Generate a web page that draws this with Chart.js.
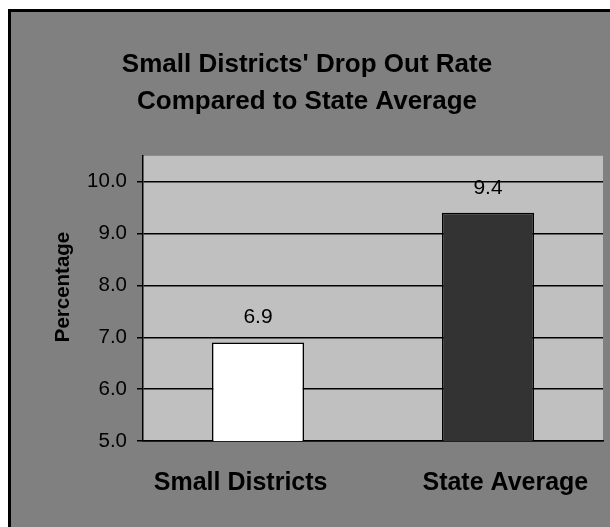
<!DOCTYPE html>
<html>
<head>
<meta charset="utf-8">
<title>Small Districts' Drop Out Rate</title>
<script src="https://cdn.jsdelivr.net/npm/chart.js@4.4.1/dist/chart.umd.min.js"></script>
<style>
    html, body { margin: 0; padding: 0; background: #ffffff; overflow: hidden; }
    #frame {
        position: absolute;
        left: 8px;
        top: 9px;
        width: 599px;
        height: 515px;
        border-left: 3px solid #000;
        border-top: 3px solid #000;
        background: #808080;
    }
    #dropOutChart { display: block; }
</style>
</head>
<body>
<div id="frame">
    <canvas id="dropOutChart" width="599" height="515"></canvas>
</div>
<script>
// chart data
const categories = ['Small Districts', 'State Average'];
const dropOutRates = [6.9, 9.4];
const barColors = ['#ffffff', '#333333'];
const titleLines = ["Small Districts' Drop Out Rate", 'Compared to State Average'];
const yTicks = [5, 6, 7, 8, 9, 10];

const FONT = '"Liberation Sans", Arial, Helvetica, sans-serif';

// grey plot area behind the bars
const plotBackground = {
    id: 'plotBackground',
    beforeDraw(chart) {
        const { ctx, chartArea } = chart;
        ctx.save();
        ctx.fillStyle = '#c0c0c0';
        ctx.fillRect(chartArea.left, chartArea.top, chartArea.right - chartArea.left, chartArea.bottom - chartArea.top);
        ctx.restore();
    }
};

// value labels above each bar
const valueLabels = {
    id: 'valueLabels',
    afterDatasetsDraw(chart) {
        const { ctx } = chart;
        const meta = chart.getDatasetMeta(0);
        ctx.save();
        ctx.font = '21px ' + FONT;
        ctx.fillStyle = '#000';
        ctx.textAlign = 'center';
        ctx.textBaseline = 'alphabetic';
        meta.data.forEach((bar, i) => {
            ctx.fillText(dropOutRates[i].toFixed(1), bar.x, bar.y - 19);
        });
        ctx.restore();
    }
};

const ctx = document.getElementById('dropOutChart');
const chart = new Chart(ctx, {
    type: 'bar',
    data: {
        labels: categories,
        datasets: [{
            data: dropOutRates,
            backgroundColor: barColors,
            borderColor: '#000',
            borderWidth: 1.5,
            barPercentage: 0.4,
            categoryPercentage: 1.0
        }]
    },
    options: {
        responsive: false,
        animation: false,
        devicePixelRatio: 1,
        layout: {
            padding: { left: 0, right: 7, top: 0, bottom: 0 }
        },
        plugins: {
            legend: { display: false },
            tooltip: { enabled: false },
            title: {
                display: true,
                text: titleLines,
                color: '#000',
                font: { family: FONT, size: 26, weight: 'bold', lineHeight: 1.4 },
                padding: { top: 35, bottom: 36 }
            }
        },
        scales: {
            x: {
                grid: { display: false, drawTicks: false },
                border: { display: true, color: '#000', width: 1.5 },
                ticks: {
                    color: '#000',
                    padding: 27,
                    font: { family: FONT, size: 25, weight: 'bold' },
                    // the original spreads the two labels outwards from the bars
                    callback: (v, i) => i === 0 ? categories[i] + '     ' : '     ' + categories[i]
                },
                afterFit(scale) {
                    scale.height = 86;
                    // labels may run into the right margin, don't shrink the plot for it
                    scale.paddingLeft = 0;
                    scale.paddingRight = 0;
                }
            },
            y: {
                min: yTicks[0],
                max: 10.5,
                ticks: {
                    stepSize: 1,
                    color: '#000',
                    padding: 10,
                    font: { family: FONT, size: 20.5 },
                    callback: v => Number(v).toFixed(1)
                },
                afterBuildTicks(scale) {
                    scale.ticks = yTicks.map(v => ({ value: v }));
                },
                grid: { color: '#000', lineWidth: 1.5, tickLength: 6 },
                border: { display: true, color: '#000', width: 1.5 },
                title: {
                    display: true,
                    // leading spaces nudge the rotated label up a little, as in the original
                    text: '    Percentage',
                    color: '#000',
                    font: { family: FONT, size: 20.5, weight: 'bold', lineHeight: 1.2 },
                    padding: { top: 40, bottom: 0 }
                },
                afterFit(scale) { scale.width = 132; }
            }
        }
    },
    plugins: [plotBackground, valueLabels]
});
</script>
</body>
</html>
